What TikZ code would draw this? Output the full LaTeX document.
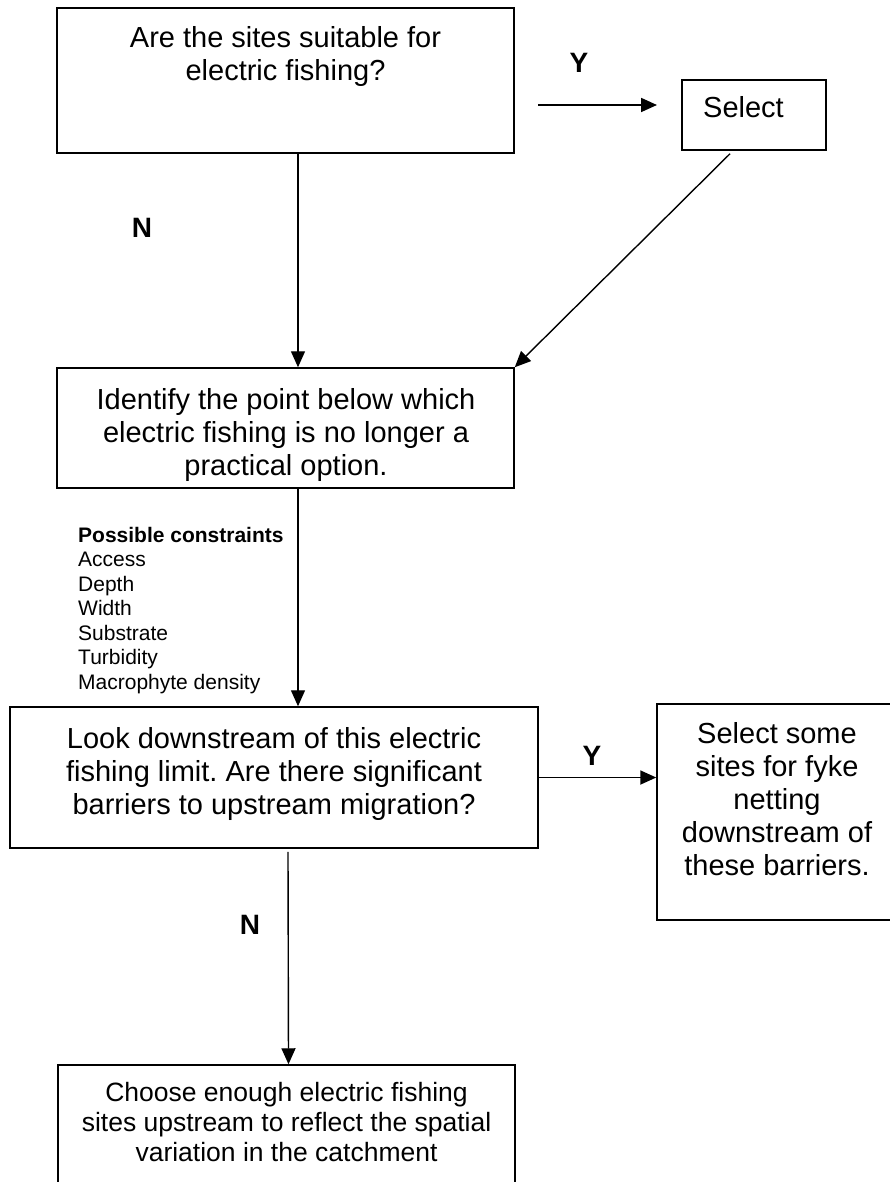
\documentclass[tikz,border=0pt]{standalone}
\usepackage{fontspec}
\setmainfont{Liberation Sans}
\usetikzlibrary{arrows.meta}
\frenchspacing
\begin{document}
\begin{tikzpicture}[x=1pt,y=-1pt,
  box/.style={draw, line width=1.5pt, inner sep=0pt},
  txt/.style={font=\fontsize{29}{33.3}\selectfont, align=center, inner sep=0pt, anchor=north},
  lab/.style={font=\fontsize{28}{30}\selectfont\bfseries, inner sep=0pt, anchor=base},
  arr/.style={line width=1.4pt, -{Triangle[length=16pt,width=14pt]}}]
\path[use as bounding box] (0,0) rectangle (890,1182);
\clip (0,0) rectangle (890,1182);
% boxes
\node[box, minimum width=457pt, minimum height=145pt] (b1) at (285.5,80.5) {};
\node[box, minimum width=144pt, minimum height=70pt] (sel) at (754,115) {};
\node[box, minimum width=457pt, minimum height=120pt] (b2) at (285.5,428) {};
\node[box, minimum width=528pt, minimum height=141pt] (b3) at (274,777.5) {};
\node[box, minimum width=240pt, minimum height=216pt] (b4) at (777,812) {};
\node[box, minimum width=457pt, minimum height=130pt] (b5) at (286.5,1130) {};
% texts
\node[txt] (t1) at (285.5,26) {Are the sites suitable for\\electric fishing?};
\node[font=\fontsize{29}{33.3}\selectfont, inner sep=0pt, anchor=base west] (tsel) at (703,118) {Select};
\node[txt] (t2) at (286,388) {Identify the point below which\\electric fishing is no longer a\\practical option.};
\node[anchor=north west, align=left, font=\fontsize{21}{24.5}\selectfont, inner sep=0pt] (cons) at (78,527)
  {\textbf{Possible constraints}\\Access\\Depth\\Width\\Substrate\\Turbidity\\Macrophyte density};
\node[txt, font=\fontsize{29}{33}\selectfont] (t3) at (274,727) {Look downstream of this electric\\fishing limit. Are there significant\\barriers to upstream migration?};
\node[txt, font=\fontsize{29}{33}\selectfont] (t4) at (777,722) {Select some\\sites for fyke\\netting\\downstream of\\these barriers.};
\node[txt, font=\fontsize{26.5}{30}\selectfont] (t5) at (286.5,1082) {Choose enough electric fishing\\sites upstream to reflect the spatial\\variation in the catchment};
% labels
\node[lab] (y1) at (579,73) {Y};
\node[lab] (n1) at (142,238) {N};
\node[lab] (y2) at (592,765) {Y};
\node[lab] (n2) at (250,934) {N};
% connectors
\coordinate (ys) at (538,105);
\coordinate (ye) at (657,105);
\draw[arr, line width=1.8pt] (ys) -- (ye);
\draw[arr] ([xshift=12.5pt]b1.south) -- ([xshift=12.5pt]b2.north);
\draw[arr] ([xshift=-24pt,yshift=-3pt]sel.south) -- (b2.north east);
\draw[arr] ([xshift=12.5pt]b2.south) -- ([xshift=24pt]b3.north);
\draw[arr, line width=1.8pt] (b3.east) -- (b3.east -| b4.west);
\draw[arr] ([xshift=14pt,yshift=-3pt]b3.south) -- ([xshift=2pt]b5.north);
\end{tikzpicture}
\end{document}
